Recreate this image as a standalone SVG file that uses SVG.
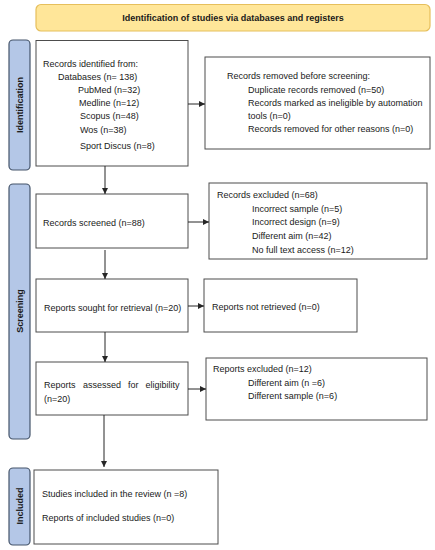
<svg xmlns="http://www.w3.org/2000/svg" width="435" height="550" viewBox="0 0 435 550">
<style>
text{font-family:"Liberation Sans",Arial,sans-serif;font-size:9px;fill:#1a1a1a}
.box{fill:#fff;stroke:#4d4d4d;stroke-width:1}
.side{fill:#b4c7e7;stroke:#44546a;stroke-width:1.2}
.sidet{font-weight:bold;font-size:9px}
.ban{fill:#ffe699;stroke:#e6bf5c;stroke-width:1.2}
.c{stroke:#262626;stroke-width:1;fill:none}
</style>
<defs>
<marker id="ah" viewBox="0 0 8 8" refX="8" refY="4" markerWidth="6" markerHeight="6" orient="auto" markerUnits="userSpaceOnUse">
<path d="M0,0 L8,4 L0,8 z" fill="#262626"/>
</marker>
</defs>
<g id="banner">
<rect class="ban" x="36" y="4.5" width="394" height="26.5" rx="5"/>
<text x="233" y="20.5" text-anchor="middle" font-weight="bold">Identification of studies via databases and registers</text>
</g>
<g id="side-identification">
<rect class="side" x="9" y="40" width="21" height="130" rx="4"/>
<text class="sidet" transform="translate(22.5,105) rotate(-90)" text-anchor="middle">Identification</text>
</g>
<g id="side-screening">
<rect class="side" x="9" y="184" width="21" height="255" rx="4"/>
<text class="sidet" transform="translate(22.5,311) rotate(-90)" text-anchor="middle">Screening</text>
</g>
<g id="side-included">
<rect class="side" x="9" y="468" width="21" height="77" rx="4"/>
<text class="sidet" transform="translate(22.5,506) rotate(-90)" text-anchor="middle">Included</text>
</g>
<g id="records-identified">
<rect class="box" x="36" y="40.5" width="152" height="125.5"/>
<text x="43" y="67">Records identified from:</text>
<text x="58" y="80">Databases (n= 138)</text>
<text x="78" y="92.5">PubMed (n=32)</text>
<text x="79" y="105.5">Medline (n=12)</text>
<text x="80" y="119">Scopus (n=48)</text>
<text x="80" y="132.5">Wos (n=38)</text>
<text x="80" y="149">Sport Discus (n=8)</text>
</g>
<g id="records-removed">
<rect class="box" x="205" y="57" width="225" height="92"/>
<text x="227" y="78.5">Records removed before screening:</text>
<text x="248" y="92.5">Duplicate records removed (n=50)</text>
<text x="248" y="105.5">Records marked as ineligible by automation</text>
<text x="248" y="118.5">tools (n=0)</text>
<text x="248" y="131.5">Records removed for other reasons (n=0)</text>
</g>
<g id="records-screened">
<rect class="box" x="36" y="194" width="152" height="54"/>
<text x="43" y="225.5">Records screened (n=88)</text>
</g>
<g id="records-excluded">
<rect class="box" x="209" y="183" width="218" height="76"/>
<text x="217" y="197.5">Records excluded (n=68)</text>
<text x="252" y="211.5">Incorrect sample (n=5)</text>
<text x="252" y="224.5">Incorrect design (n=9)</text>
<text x="252" y="238.5">Different aim (n=42)</text>
<text x="252" y="252.5">No full text access (n=12)</text>
</g>
<g id="reports-sought">
<rect class="box" x="36" y="279" width="152" height="53"/>
<text x="44" y="311">Reports sought for retrieval (n=20)</text>
</g>
<g id="reports-not-retrieved">
<rect class="box" x="204" y="279" width="153" height="53"/>
<text x="212" y="309.5">Reports not retrieved (n=0)</text>
</g>
<g id="reports-assessed">
<rect class="box" x="36" y="362" width="152" height="53"/>
<text y="387.5"><tspan x="44">Reports</tspan><tspan x="83">assessed</tspan><tspan x="128">for</tspan><tspan x="145.5">eligibility</tspan></text>
<text x="44" y="401.5">(n=20)</text>
</g>
<g id="reports-excluded">
<rect class="box" x="206" y="358" width="221" height="62"/>
<text x="213" y="371.5">Reports excluded (n=12)</text>
<text x="248" y="385.5">Different aim (n =6)</text>
<text x="248" y="398.5">Different sample (n=6)</text>
</g>
<g id="studies-included">
<rect class="box" x="34" y="470" width="184" height="74"/>
<text x="42" y="496.5">Studies included in the review (n =8)</text>
<text x="42" y="520.5">Reports of included studies (n=0)</text>
</g>
<g id="connectors">
<line class="c" x1="188" y1="104" x2="205" y2="104" marker-end="url(#ah)"/>
<line class="c" x1="105" y1="166" x2="105" y2="194" marker-end="url(#ah)"/>
<line class="c" x1="188" y1="222" x2="209" y2="222" marker-end="url(#ah)"/>
<line class="c" x1="105" y1="250" x2="105" y2="279" marker-end="url(#ah)"/>
<line class="c" x1="188" y1="306" x2="204" y2="306" marker-end="url(#ah)"/>
<line class="c" x1="105" y1="332" x2="105" y2="362" marker-end="url(#ah)"/>
<line class="c" x1="188" y1="389" x2="206" y2="389" marker-end="url(#ah)"/>
<line class="c" x1="104" y1="415" x2="104" y2="467" marker-end="url(#ah)"/>
</g>
</svg>
